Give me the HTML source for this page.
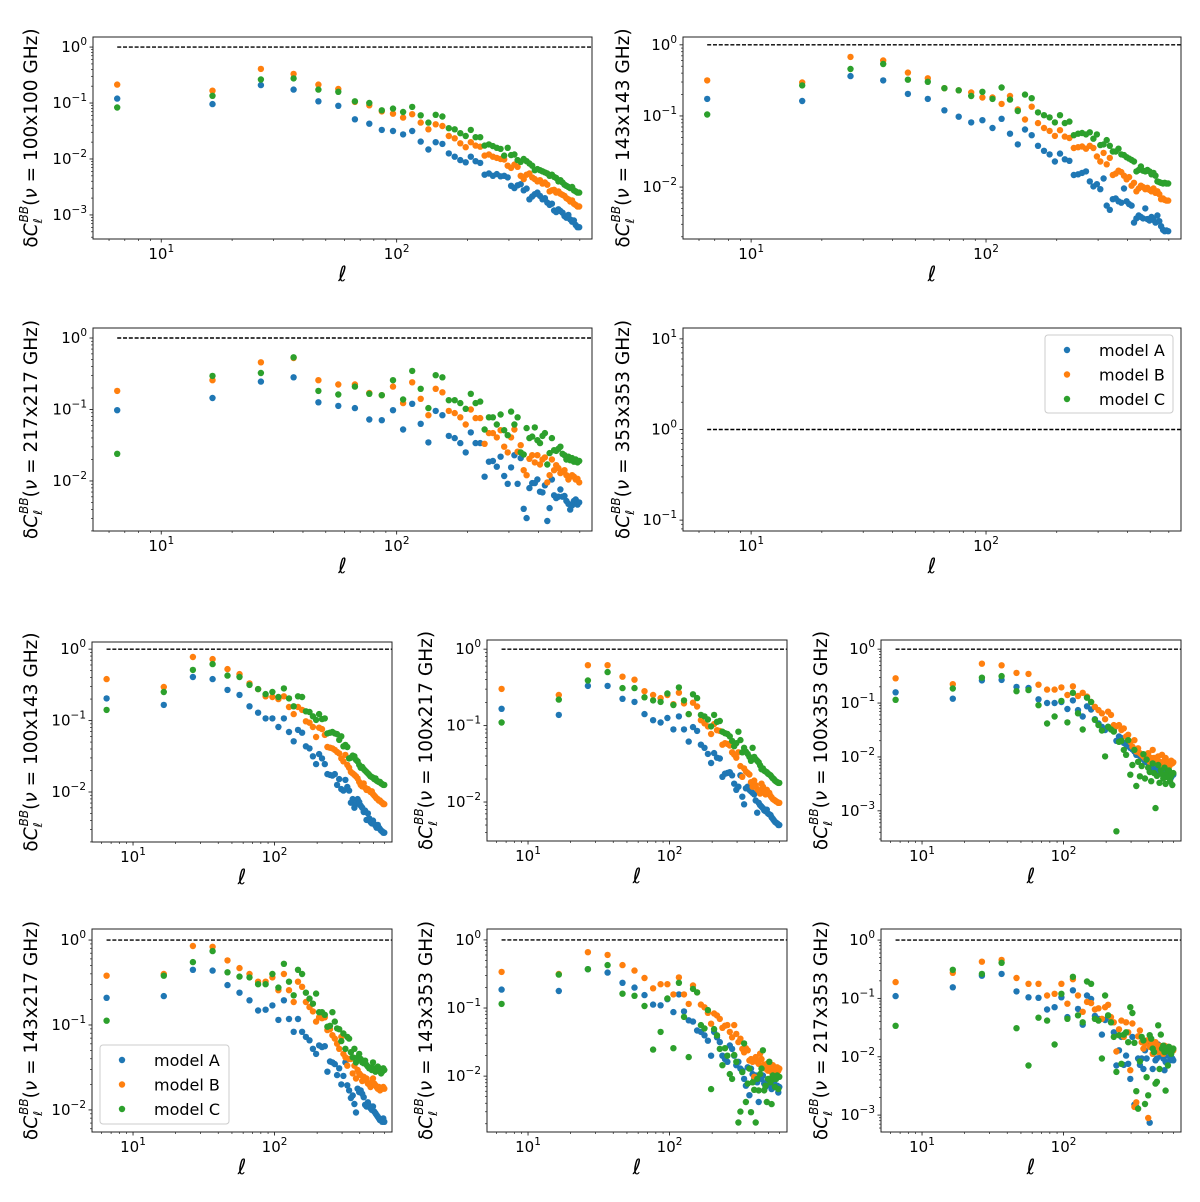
<!DOCTYPE html>
<html><head><meta charset="utf-8"><style>
html,body{margin:0;padding:0;background:#fff}
svg{display:block}
text{font-family:"DejaVu Sans","Liberation Sans",sans-serif;fill:#000}
</style></head><body>
<svg id="fig" width="1200" height="1202" viewBox="0 0 1200 1202" xmlns="http://www.w3.org/2000/svg"></svg>
<script>
// multipoles (bin centres)
const ELL=[6.5,16.5,26.5,36.5,46.5,56.5,66.5,76.5,86.5,96.5,106.5,116.5,126.5,136.5,146.5,156.5,166.5,176.5,186.5,196.5,206.5,216.5,226.5,236.5,246.5,256.5,266.5,276.5,286.5,296.5,306.5,316.5,326.5,336.5,346.5,356.5,366.5,376.5,386.5,396.5,406.5,416.5,426.5,436.5,446.5,456.5,466.5,476.5,486.5,496.5,506.5,516.5,526.5,536.5,546.5,556.5,566.5,576.5,586.5,596.5];
// values are log10(deltaC_l^BB)
const p100x100A=[-0.92,-1.02,-0.68,-0.76,-0.97,-1.05,-1.29,-1.37,-1.48,-1.50,-1.56,-1.50,-1.69,-1.83,-1.70,-1.73,-1.90,-1.96,-2.02,-2.06,-1.96,-2.04,-2.07,-2.28,-2.26,-2.30,-2.27,-2.31,-2.30,-2.33,-2.48,-2.52,-2.47,-2.45,-2.56,-2.53,-2.72,-2.67,-2.63,-2.60,-2.66,-2.72,-2.70,-2.78,-2.82,-2.80,-2.92,-2.95,-2.90,-2.93,-2.96,-3.02,-3.05,-3.00,-3.08,-3.12,-3.10,-3.18,-3.22,-3.22];
const p100x100B=[-0.67,-0.78,-0.39,-0.48,-0.67,-0.75,-0.98,-1.04,-1.15,-1.19,-1.26,-1.20,-1.35,-1.47,-1.38,-1.41,-1.59,-1.63,-1.72,-1.79,-1.70,-1.76,-1.78,-1.94,-1.92,-1.96,-1.98,-2.00,-2.01,-2.12,-2.16,-2.10,-2.14,-2.30,-2.36,-2.28,-2.26,-2.33,-2.36,-2.40,-2.38,-2.44,-2.42,-2.46,-2.58,-2.56,-2.55,-2.60,-2.58,-2.62,-2.64,-2.66,-2.70,-2.72,-2.76,-2.74,-2.80,-2.82,-2.85,-2.85];
const p100x100C=[-1.08,-0.87,-0.58,-0.56,-0.76,-0.80,-0.97,-1.00,-1.13,-1.10,-1.16,-1.07,-1.22,-1.35,-1.21,-1.24,-1.45,-1.47,-1.54,-1.59,-1.48,-1.61,-1.61,-1.76,-1.74,-1.77,-1.80,-1.82,-1.94,-1.80,-1.93,-1.92,-2.02,-2.05,-2.00,-2.04,-2.08,-2.12,-2.20,-2.18,-2.20,-2.22,-2.24,-2.26,-2.30,-2.28,-2.32,-2.34,-2.40,-2.38,-2.42,-2.46,-2.48,-2.50,-2.52,-2.50,-2.56,-2.58,-2.60,-2.60];
const p143x143A=[-0.76,-0.79,-0.44,-0.50,-0.69,-0.76,-0.92,-1.01,-1.09,-1.06,-1.17,-1.04,-1.25,-1.40,-1.19,-1.27,-1.42,-1.49,-1.54,-1.64,-1.53,-1.61,-1.63,-1.83,-1.82,-1.80,-1.78,-1.92,-1.99,-1.96,-2.03,-1.88,-2.26,-2.32,-2.17,-2.16,-2.20,-2.22,-2.02,-2.20,-2.24,-2.26,-2.50,-2.44,-2.40,-2.42,-2.44,-2.30,-2.45,-2.47,-2.42,-2.46,-2.50,-2.40,-2.48,-2.55,-2.60,-2.62,-2.61,-2.62];
const p143x143B=[-0.50,-0.53,-0.17,-0.22,-0.39,-0.47,-0.61,-0.64,-0.67,-0.74,-0.74,-0.83,-0.72,-0.91,-1.05,-0.87,-1.10,-1.17,-1.21,-1.28,-1.20,-1.29,-1.31,-1.45,-1.44,-1.43,-1.46,-1.42,-1.45,-1.57,-1.64,-1.52,-1.68,-1.59,-1.83,-1.81,-1.77,-1.79,-1.84,-1.89,-1.86,-1.98,-1.94,-2.06,-2.02,-1.98,-2.00,-2.03,-2.01,-2.04,-2.06,-2.02,-2.08,-2.06,-2.10,-2.17,-2.16,-2.18,-2.19,-2.19];
const p143x143C=[-0.98,-0.57,-0.34,-0.27,-0.49,-0.52,-0.61,-0.64,-0.72,-0.66,-0.76,-0.60,-0.77,-0.93,-0.70,-0.75,-0.95,-0.99,-1.02,-1.09,-0.99,-1.10,-1.08,-1.27,-1.25,-1.24,-1.26,-1.23,-1.32,-1.26,-1.41,-1.40,-1.34,-1.42,-1.50,-1.50,-1.46,-1.54,-1.55,-1.58,-1.60,-1.62,-1.64,-1.78,-1.76,-1.71,-1.77,-1.78,-1.76,-1.78,-1.82,-1.80,-1.84,-1.92,-1.93,-1.94,-1.95,-1.94,-1.95,-1.95];
const p217x217A=[-1.01,-0.84,-0.61,-0.55,-0.90,-0.95,-0.98,-1.14,-1.15,-1.01,-1.28,-0.92,-1.20,-1.46,-1.02,-1.08,-1.37,-1.40,-1.47,-1.60,-1.32,-1.47,-1.47,-1.94,-1.73,-1.72,-1.80,-1.66,-1.93,-2.04,-1.81,-1.64,-2.04,-1.68,-2.39,-2.52,-2.10,-2.03,-2.03,-1.98,-2.15,-2.16,-2.06,-2.56,-2.38,-1.98,-2.20,-2.24,-2.22,-2.12,-2.22,-2.21,-2.28,-2.32,-2.40,-2.34,-2.28,-2.26,-2.33,-2.30];
const p217x217B=[-0.74,-0.59,-0.34,-0.28,-0.59,-0.65,-0.65,-0.77,-0.80,-0.68,-0.91,-0.62,-0.85,-1.08,-0.71,-0.76,-1.02,-1.05,-1.11,-1.21,-1.00,-1.12,-1.12,-1.48,-1.33,-1.33,-1.39,-1.29,-1.52,-1.60,-1.39,-1.28,-1.59,-1.50,-1.85,-1.92,-1.69,-1.64,-1.74,-1.64,-1.77,-1.70,-1.67,-2.02,-1.92,-1.70,-1.85,-1.78,-1.82,-1.89,-1.87,-1.85,-1.92,-1.98,-1.94,-1.92,-1.94,-1.98,-1.97,-2.02];
const p217x217C=[-1.62,-0.53,-0.49,-0.27,-0.74,-0.79,-0.68,-0.78,-0.80,-0.59,-0.86,-0.46,-0.71,-0.98,-0.52,-0.55,-0.87,-0.87,-0.91,-0.99,-0.78,-0.91,-0.89,-1.28,-1.11,-1.11,-1.21,-1.07,-1.29,-1.36,-1.03,-1.21,-1.11,-1.60,-1.63,-1.26,-1.40,-1.38,-1.25,-1.43,-1.47,-1.37,-1.33,-1.77,-1.61,-1.40,-1.57,-1.58,-1.55,-1.52,-1.62,-1.64,-1.70,-1.66,-1.71,-1.68,-1.73,-1.70,-1.74,-1.72];
const p100x143A=[-0.69,-0.78,-0.39,-0.42,-0.57,-0.64,-0.80,-0.89,-0.97,-0.97,-1.09,-0.97,-1.16,-1.29,-1.13,-1.17,-1.36,-1.39,-1.50,-1.61,-1.47,-1.53,-1.61,-1.75,-1.76,-1.77,-1.75,-1.90,-1.82,-1.96,-1.98,-1.83,-1.93,-1.98,-2.15,-2.10,-2.22,-2.17,-2.10,-2.14,-2.19,-2.22,-2.28,-2.26,-2.39,-2.30,-2.37,-2.42,-2.44,-2.40,-2.45,-2.47,-2.50,-2.46,-2.50,-2.52,-2.54,-2.55,-2.57,-2.57];
const p100x143B=[-0.42,-0.53,-0.11,-0.14,-0.28,-0.35,-0.48,-0.56,-0.66,-0.67,-0.70,-0.66,-0.81,-0.91,-0.81,-0.85,-1.01,-1.03,-1.09,-1.23,-1.10,-1.12,-1.20,-1.37,-1.38,-1.39,-1.41,-1.44,-1.46,-1.53,-1.57,-1.48,-1.62,-1.66,-1.72,-1.74,-1.76,-1.78,-1.81,-1.86,-1.90,-1.92,-1.88,-1.94,-1.97,-1.96,-1.98,-2.00,-1.99,-2.03,-2.05,-2.07,-2.09,-2.10,-2.12,-2.12,-2.14,-2.15,-2.17,-2.17];
const p100x143C=[-0.85,-0.60,-0.29,-0.21,-0.37,-0.39,-0.50,-0.56,-0.63,-0.60,-0.67,-0.55,-0.69,-0.80,-0.66,-0.67,-0.87,-0.88,-0.94,-0.99,-0.91,-0.98,-0.97,-1.18,-1.17,-1.16,-1.18,-1.19,-1.27,-1.22,-1.36,-1.34,-1.37,-1.53,-1.52,-1.49,-1.50,-1.55,-1.57,-1.62,-1.66,-1.65,-1.68,-1.70,-1.72,-1.74,-1.76,-1.78,-1.79,-1.80,-1.82,-1.81,-1.84,-1.85,-1.86,-1.86,-1.88,-1.89,-1.90,-1.90];
const p100x217A=[-0.78,-0.86,-0.48,-0.48,-0.65,-0.69,-0.85,-0.93,-0.96,-0.90,-1.05,-0.88,-1.05,-1.21,-1.02,-1.07,-1.25,-1.29,-1.37,-1.49,-1.36,-1.42,-1.43,-1.67,-1.63,-1.62,-1.61,-1.65,-1.76,-1.84,-1.80,-1.65,-1.93,-2.03,-1.82,-1.80,-1.84,-1.86,-1.88,-1.90,-1.98,-2.14,-2.01,-2.04,-2.06,-2.08,-2.11,-2.12,-2.10,-2.15,-2.16,-2.17,-2.20,-2.22,-2.24,-2.26,-2.27,-2.28,-2.30,-2.30];
const p100x217B=[-0.52,-0.60,-0.21,-0.21,-0.36,-0.40,-0.55,-0.60,-0.64,-0.60,-0.72,-0.57,-0.71,-0.85,-0.70,-0.75,-0.93,-0.97,-1.01,-1.11,-0.98,-1.06,-1.07,-1.25,-1.23,-1.24,-1.26,-1.35,-1.38,-1.42,-1.35,-1.53,-1.67,-1.56,-1.60,-1.62,-1.64,-1.74,-1.80,-1.72,-1.78,-1.83,-1.85,-1.89,-1.76,-1.80,-1.86,-1.90,-1.84,-1.87,-1.88,-1.92,-1.94,-1.96,-1.97,-1.98,-1.99,-2.00,-2.01,-2.01];
const p100x217C=[-0.96,-0.66,-0.41,-0.30,-0.51,-0.51,-0.63,-0.67,-0.69,-0.58,-0.73,-0.50,-0.67,-0.85,-0.59,-0.64,-0.86,-0.88,-0.92,-1.01,-0.86,-0.95,-0.94,-1.08,-1.10,-1.11,-1.14,-1.20,-1.27,-1.23,-1.08,-1.19,-1.35,-1.29,-1.34,-1.37,-1.41,-1.46,-1.29,-1.41,-1.44,-1.46,-1.48,-1.52,-1.57,-1.56,-1.59,-1.60,-1.61,-1.63,-1.64,-1.65,-1.67,-1.69,-1.70,-1.72,-1.73,-1.74,-1.75,-1.75];
const p100x353A=[-0.80,-0.92,-0.58,-0.57,-0.70,-0.72,-0.93,-1.00,-1.00,-0.98,-1.11,-0.95,-1.13,-1.25,-1.06,-1.12,-1.30,-1.38,-1.44,-1.50,-1.44,-1.47,-1.50,-1.70,-1.62,-1.65,-1.74,-1.77,-1.80,-1.83,-1.86,-1.90,-1.96,-1.95,-1.98,-2.03,-1.99,-2.08,-2.10,-2.11,-2.14,-2.17,-2.20,-2.23,-2.17,-2.14,-2.23,-2.26,-2.29,-2.26,-2.32,-2.29,-2.34,-2.35,-2.22,-2.36,-2.30,-2.38,-2.32,-2.33];
const p100x353B=[-0.54,-0.65,-0.27,-0.30,-0.44,-0.46,-0.66,-0.75,-0.75,-0.71,-0.85,-0.69,-0.87,-0.81,-0.88,-0.98,-1.07,-1.13,-1.19,-1.30,-1.16,-1.22,-1.41,-1.43,-1.41,-1.50,-1.47,-1.62,-1.59,-1.72,-1.81,-1.69,-1.90,-1.84,-1.93,-1.96,-1.99,-2.02,-1.99,-1.93,-2.09,-2.02,-1.87,-2.02,-2.09,-2.12,-1.99,-2.09,-2.15,-1.96,-2.18,-2.06,-2.02,-2.12,-2.09,-2.18,-2.15,-2.07,-2.12,-2.10];
const p100x353C=[-0.94,-0.73,-0.53,-0.50,-0.78,-0.76,-1.04,-1.38,-1.25,-0.96,-1.36,-0.81,-1.19,-1.49,-0.90,-0.98,-1.31,-1.41,-1.51,-1.99,-1.44,-1.49,-1.53,-3.38,-1.72,-1.70,-1.87,-1.96,-1.69,-2.33,-2.15,-1.87,-2.54,-2.09,-2.36,-2.17,-1.95,-2.40,-2.05,-2.20,-2.28,-2.45,-2.12,-2.30,-2.95,-2.35,-2.15,-2.48,-2.25,-2.32,-2.40,-2.20,-2.50,-2.30,-2.38,-2.25,-2.45,-2.35,-2.52,-2.30];
const p143x217A=[-0.68,-0.66,-0.35,-0.36,-0.53,-0.62,-0.71,-0.83,-0.82,-0.77,-0.94,-0.71,-0.93,-1.08,-0.93,-1.08,-1.14,-1.18,-1.28,-1.34,-1.24,-1.26,-1.25,-1.55,-1.43,-1.44,-1.46,-1.59,-1.51,-1.70,-1.60,-1.44,-1.71,-1.77,-1.86,-1.83,-1.93,-2.03,-1.75,-1.79,-1.77,-1.81,-1.85,-1.94,-1.96,-1.91,-1.95,-1.98,-2.00,-1.96,-2.02,-2.04,-2.06,-2.08,-2.10,-2.12,-2.11,-2.14,-2.10,-2.14];
const p143x217B=[-0.42,-0.40,-0.07,-0.08,-0.24,-0.33,-0.40,-0.49,-0.49,-0.44,-0.59,-0.40,-0.59,-0.73,-0.49,-0.55,-0.73,-0.79,-0.84,-0.96,-0.91,-0.92,-0.91,-1.06,-1.05,-1.12,-1.16,-1.22,-1.28,-1.14,-1.34,-1.38,-1.48,-1.40,-1.40,-1.57,-1.48,-1.63,-1.53,-1.57,-1.59,-1.66,-1.61,-1.65,-1.63,-1.69,-1.70,-1.73,-1.67,-1.63,-1.69,-1.71,-1.73,-1.75,-1.73,-1.77,-1.74,-1.75,-1.73,-1.75];
const p143x217C=[-0.95,-0.42,-0.26,-0.13,-0.38,-0.43,-0.44,-0.52,-0.52,-0.40,-0.56,-0.28,-0.49,-0.65,-0.35,-0.40,-0.62,-0.69,-0.75,-0.63,-0.85,-0.85,-0.88,-1.02,-1.01,-0.85,-0.96,-1.04,-1.05,-1.19,-1.10,-1.28,-1.14,-1.16,-1.32,-1.38,-1.28,-1.44,-1.38,-1.34,-1.40,-1.44,-1.45,-1.42,-1.47,-1.49,-1.51,-1.50,-1.53,-1.44,-1.51,-1.55,-1.53,-1.49,-1.51,-1.53,-1.57,-1.55,-1.51,-1.53];
const p143x353A=[-0.73,-0.75,-0.43,-0.48,-0.63,-0.70,-0.81,-0.95,-0.96,-0.87,-1.06,-0.80,-1.05,-1.18,-1.20,-1.33,-1.35,-1.40,-1.48,-1.70,-1.35,-1.43,-1.50,-1.70,-1.75,-1.79,-1.55,-1.60,-1.70,-1.84,-1.79,-1.89,-1.92,-2.04,-2.14,-1.87,-2.28,-1.89,-1.97,-2.04,-1.99,-2.09,-2.38,-2.01,-2.04,-1.99,-2.11,-2.16,-2.09,-2.06,-2.04,-2.14,-2.19,-2.11,-2.09,-2.16,-2.04,-2.14,-2.24,-2.16];
const p143x353B=[-0.47,-0.50,-0.18,-0.22,-0.37,-0.45,-0.56,-0.71,-0.65,-0.65,-0.80,-0.55,-0.80,-0.94,-0.67,-0.77,-0.95,-0.99,-1.07,-1.23,-1.08,-1.11,-1.16,-1.29,-1.26,-1.25,-1.35,-1.43,-1.25,-1.38,-1.50,-1.45,-1.60,-1.65,-1.59,-1.62,-1.77,-1.75,-1.79,-2.01,-1.72,-1.79,-1.82,-1.67,-1.75,-1.84,-1.83,-1.89,-1.82,-1.92,-1.79,-1.87,-1.94,-1.84,-1.92,-1.88,-1.89,-1.87,-1.92,-1.89];
const p143x353C=[-0.94,-0.51,-0.43,-0.37,-0.79,-0.82,-0.97,-1.61,-1.35,-0.86,-1.59,-0.63,-1.13,-1.72,-0.72,-0.77,-1.25,-1.30,-1.03,-2.19,-1.31,-1.40,-1.60,-1.84,-1.59,-1.70,-1.97,-2.04,-1.69,-1.79,-2.68,-2.52,-1.94,-1.52,-2.38,-2.11,-1.89,-2.53,-2.09,-2.20,-2.68,-2.04,-2.21,-1.97,-1.89,-1.62,-2.21,-2.14,-2.38,-2.04,-1.79,-2.09,-2.41,-1.99,-2.04,-2.16,-2.04,-1.99,-2.19,-2.01];
const p217x353A=[-0.96,-0.81,-0.61,-0.58,-0.88,-0.98,-0.99,-1.19,-1.15,-0.98,-1.32,-0.86,-1.18,-1.45,-0.95,-1.01,-1.30,-1.35,-1.62,-1.37,-1.32,-1.41,-1.58,-2.15,-1.89,-1.66,-2.14,-1.98,-2.12,-2.38,-1.66,-2.82,-2.86,-2.03,-2.14,-2.03,-2.21,-1.89,-2.03,-1.75,-3.13,-1.78,-2.21,-1.86,-2.06,-2.03,-1.79,-1.89,-1.98,-1.92,-2.03,-2.23,-2.09,-1.98,-1.86,-1.95,-2.06,-2.01,-2.03,-2.06];
const p217x353B=[-0.72,-0.56,-0.37,-0.34,-0.65,-0.75,-0.75,-0.95,-0.92,-0.75,-1.09,-0.67,-0.95,-1.23,-1.06,-1.08,-1.19,-1.17,-1.35,-1.15,-1.11,-1.32,-1.41,-1.91,-1.53,-1.38,-1.66,-1.41,-1.58,-2.23,-1.43,-2.86,-2.78,-1.65,-1.55,-1.75,-1.86,-1.78,-1.72,-3.05,-1.83,-1.75,-1.95,-1.78,-1.75,-1.86,-1.92,-1.81,-1.89,-1.83,-1.95,-1.81,-1.86,-1.89,-1.83,-1.86,-1.92,-1.89,-1.86,-1.89];
const p217x353C=[-1.47,-0.51,-0.58,-0.39,-1.51,-2.15,-1.33,-1.38,-1.79,-0.92,-1.35,-0.63,-1.29,-1.41,-0.71,-0.75,-1.35,-1.38,-2.03,-0.95,-1.29,-1.41,-1.66,-2.26,-1.63,-2.12,-1.62,-1.58,-1.75,-1.15,-1.25,-1.76,-2.59,-2.89,-2.08,-1.66,-1.72,-2.81,-2.35,-2.66,-1.63,-1.69,-1.86,-1.92,-2.46,-2.43,-1.46,-2.21,-1.62,-1.86,-1.81,-1.92,-2.58,-1.86,-2.15,-1.83,-1.92,-1.95,-1.89,-1.86];
const p353x353A=[],p353x353B=[],p353x353C=[];
const SERIES_NAMES=["model A","model B","model C"];
const COLORS=["#1f77b4","#ff7f0e","#2ca02c"];
const XLOG=[0.71,2.83];
const XTICK_EXP=[1,2];

const panels=[
 {key:"100x100",x:93,y:37,w:499,h:202,ymin:-3.43,ymax:0.18,yt:[0,-1,-2,-3],lx:30,s:[p100x100A,p100x100B,p100x100C]},
 {key:"143x143",x:683,y:37,w:498,h:202,ymin:-2.73,ymax:0.11,yt:[0,-1,-2],lx:622,s:[p143x143A,p143x143B,p143x143C]},
 {key:"217x217",x:93,y:328,w:499,h:203,ymin:-2.70,ymax:0.14,yt:[0,-1,-2],lx:30,s:[p217x217A,p217x217B,p217x217C]},
 {key:"353x353",x:683,y:328,w:498,h:203,ymin:-1.12,ymax:1.12,yt:[1,0,-1],lx:622,s:[p353x353A,p353x353B,p353x353C],legend:{x:1045,y:335,w:128,h:78}},
 {key:"100x143",x:92,y:642,w:300,h:200,ymin:-2.70,ymax:0.10,yt:[0,-1,-2],lx:30,s:[p100x143A,p100x143B,p100x143C]},
 {key:"100x217",x:487,y:640,w:300,h:201,ymin:-2.51,ymax:0.12,yt:[0,-1,-2],lx:425,s:[p100x217A,p100x217B,p100x217C]},
 {key:"100x353",x:881,y:640,w:300,h:201,ymin:-3.56,ymax:0.17,yt:[0,-1,-2,-3],lx:820,s:[p100x353A,p100x353B,p100x353C]},
 {key:"143x217",x:92,y:929,w:300,h:203,ymin:-2.26,ymax:0.13,yt:[0,-1,-2],lx:30,s:[p143x217A,p143x217B,p143x217C],legend:{x:100,y:1045,w:129,h:79}},
 {key:"143x353",x:487,y:929,w:300,h:203,ymin:-2.82,ymax:0.16,yt:[0,-1,-2],lx:425,s:[p143x353A,p143x353B,p143x353C]},
 {key:"217x353",x:881,y:929,w:300,h:203,ymin:-3.29,ymax:0.19,yt:[0,-1,-2,-3],lx:820,s:[p217x353A,p217x353B,p217x353C]}
];

const NS="http://www.w3.org/2000/svg";
const svg=document.getElementById('fig');
function mk(tag,attrs,parent){const e=document.createElementNS(NS,tag);for(const k in attrs)e.setAttribute(k,attrs[k]);(parent||svg).appendChild(e);return e;}
function fmtExp(n){return n<0?"\u2212"+(-n):String(n);}

panels.forEach(p=>{
  const g=mk('g',{});
  
  
  const sx=v=>p.x+(Math.log10(v)-XLOG[0])/(XLOG[1]-XLOG[0])*p.w;
  const sy=l=>p.y+(p.ymax-l)/(p.ymax-p.ymin)*p.h;
  const cid='clip-'+p.key;
  const cp=mk('clipPath',{id:cid},g);
  mk('rect',{x:p.x,y:p.y,width:p.w,height:p.h},cp);
  const ref=mk('line',{x1:sx(ELL[0]),x2:p.x+p.w,y1:sy(0),y2:sy(0),stroke:'#000','stroke-width':1.4,'stroke-dasharray':'4,1.8'},g);
  
  
  const pg=mk('g',{'clip-path':'url(#'+cid+')'},g);
  p.s.forEach((arr,si)=>{
    const sg=mk('g',{fill:COLORS[si]},pg);
    
    
    const n=Math.min(arr.length,ELL.length);
    for(let i=0;i<n;i++){
      const c=mk('circle',{cx:sx(ELL[i]).toFixed(1),cy:sy(arr[i]).toFixed(1),r:3.2},sg);
      
      
    }
  });
  const sp=mk('rect',{x:p.x,y:p.y,width:p.w,height:p.h,fill:'none',stroke:'#222','stroke-width':1},g);
  
  
  const xt=mk('g',{},g);
  
  
  for(let d=0;d<=2;d++){for(let m=1;m<=9;m++){const v=m*Math.pow(10,d);const lv=Math.log10(v);if(lv<XLOG[0]||lv>XLOG[1])continue;const X=sx(v);const len=m===1?3.5:2;mk('line',{x1:X,x2:X,y1:p.y+p.h,y2:p.y+p.h+len,stroke:'#222','stroke-width':m===1?0.9:0.7},xt);}}
  XTICK_EXP.forEach(e=>{const X=sx(Math.pow(10,e));const t=mk('text',{x:X,y:p.y+p.h+20,'text-anchor':'middle','font-size':15},xt);t.textContent='10';const s=mk('tspan',{dy:-7,'font-size':10.5},t);s.textContent=fmtExp(e);});
  const xl=mk('text',{x:p.x+p.w/2,y:p.y+p.h+42,'text-anchor':'middle','font-size':21,'font-style':'italic','font-family':'DejaVu Serif, Liberation Serif, serif'},xt);xl.textContent='\u2113';
  
  
  const yg=mk('g',{},g);
  
  
  for(let d=Math.floor(p.ymin);d<=Math.ceil(p.ymax);d++){for(let m=1;m<=9;m++){const l=d+Math.log10(m);if(l<p.ymin||l>p.ymax)continue;const Y=sy(l);const len=m===1?3.5:2;mk('line',{x1:p.x-len,x2:p.x,y1:Y,y2:Y,stroke:'#222','stroke-width':m===1?0.9:0.7},yg);}}
  p.yt.forEach(e=>{const Y=sy(e);const t=mk('text',{x:p.x-6,y:Y+5,'text-anchor':'end','font-size':15},yg);t.textContent='10';const s=mk('tspan',{dy:-7,'font-size':10.5},t);s.textContent=fmtExp(e);});
  const cy=p.y+p.h/2;
  const yl=mk('text',{transform:'translate('+(p.lx+7)+','+cy+') rotate(-90)','text-anchor':'middle','font-size':18.5},yg);
  
  
  const a=mk('tspan',{},yl);a.textContent='\u03b4';
  const b=mk('tspan',{'font-style':'italic'},yl);b.textContent='C';
  const c=mk('tspan',{'font-style':'italic','font-size':12,dy:5},yl);c.textContent='\u2113';
  const d2=mk('tspan',{'font-style':'italic','font-size':12,dy:-14,dx:-4},yl);d2.textContent='BB';
  const e2=mk('tspan',{dy:9},yl);e2.textContent='(';
  const f=mk('tspan',{'font-style':'italic'},yl);f.textContent='\u03bd';
  const h=mk('tspan',{},yl);h.textContent=' = '+p.key+' GHz)';
  if(p.legend){
    const L=p.legend;
    const lg=mk('g',{},g);
    
    
    mk('rect',{x:L.x,y:L.y,width:L.w,height:L.h,rx:3,fill:'#fff','fill-opacity':0.85,stroke:'#ccc','stroke-width':1},lg);
    SERIES_NAMES.forEach((nm,i)=>{
      const ey=L.y+15+i*24.5;
      const eg=mk('g',{},lg);
      
      
      mk('circle',{cx:L.x+22,cy:ey,r:3.2,fill:COLORS[i]},eg);
      const t=mk('text',{x:L.x+54,y:ey+6,'font-size':16},eg);t.textContent=nm;
    });
  }
});
</script>
</body></html>
